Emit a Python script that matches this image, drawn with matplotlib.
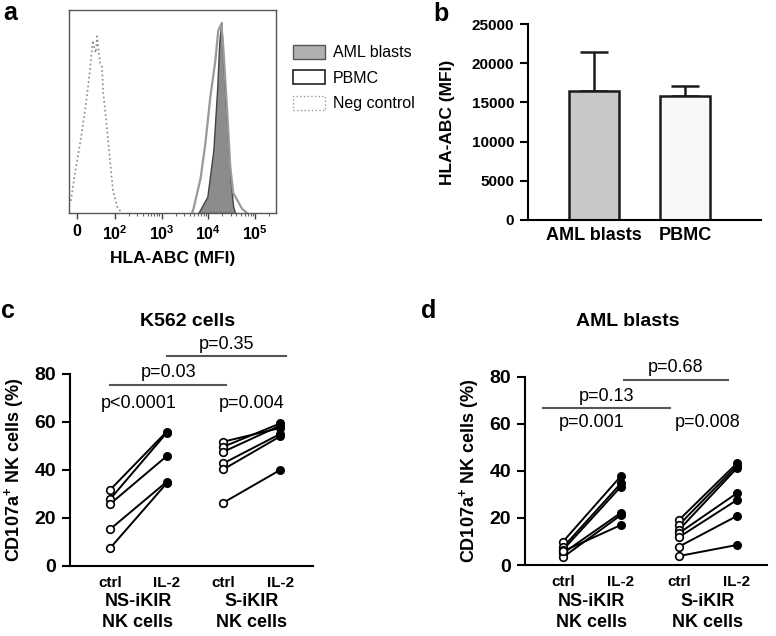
import numpy as np
import matplotlib.pyplot as plt
from matplotlib import ticker
from matplotlib.patches import Patch

plt.rcParams['font.family'] = ['Liberation Sans', 'DejaVu Sans']
plt.rcParams['mathtext.fontset'] = 'custom'
plt.rcParams['mathtext.rm'] = 'Liberation Sans'
plt.rcParams['mathtext.bf'] = 'Liberation Sans:bold'

# a: histogramme (MFI, hauteur relative)
neg_mfi = [-16, -5, 8, 21, 26, 34, 42, 47, 50, 53, 57, 61, 66, 69, 79, 87, 95, 113, 140]
neg_cnt = [0.06, 0.2, 0.34, 0.5, 0.57, 0.70, 0.85, 0.80, 0.79, 0.87, 0.80, 0.74, 0.72, 0.60, 0.42, 0.26, 0.11, 0.03, 0.0]
aml_mfi = [6100, 9500, 12800, 15500, 17100, 18900, 20800, 25300, 29400, 34000, 37500]
aml_cnt = [0.0, 0.08, 0.31, 0.62, 0.84, 0.94, 0.75, 0.42, 0.18, 0.03, 0.0]
pbmc_mfi = [4500, 4800, 6800, 8600, 11000, 14100, 16300, 18900, 20800, 25300, 29400, 34000, 52800, 67600]
pbmc_cnt = [0.0, 0.02, 0.17, 0.34, 0.57, 0.75, 0.90, 0.93, 0.82, 0.50, 0.23, 0.10, 0.02, 0.0]

# b: barres
groups_b = ['AML blasts', 'PBMC']
mfi_mean = [16490, 15860]
mfi_sd = [4900, 1230]

# c / d: paires ctrl -> IL-2
cats = ['ctrl', 'IL-2', 'ctrl', 'IL-2']
k562_ns_ctrl = [31.7, 27.8, 25.8, 15.3, 7.4]
k562_ns_il2 = [56.0, 55.5, 45.8, 35.1, 34.5]
k562_s_ctrl = [51.8, 49.7, 47.6, 42.8, 40.3, 26.4]
k562_s_il2 = [57.5, 59.4, 58.5, 55.0, 54.0, 40.0]
aml_ns_ctrl = [9.9, 7.5, 6.4, 5.0, 3.3, 5.8]
aml_ns_il2 = [37.8, 34.7, 33.3, 22.2, 21.2, 17.0]
aml_s_ctrl = [19.1, 17.0, 14.9, 13.5, 11.8, 7.8, 3.8]
aml_s_il2 = [43.2, 42.1, 41.1, 30.5, 27.6, 20.8, 8.5]

W, H = 776, 636
fig = plt.figure(figsize=(W / 100, H / 100), dpi=100)


def box(l, t, r, b):
    return [l / W, 1 - b / H, (r - l) / W, (b - t) / H]


def ftext(x, y, s, **kw):
    fig.text(x / W, 1 - y / H, s, ha='center', va='center', **kw)


# ---- a
ax = fig.add_axes(box(69, 10, 276, 213))
ax.set_xscale('symlog', linthresh=100, linscale=0.73)
ax.fill_between(pbmc_mfi, pbmc_cnt, color='white', lw=0)
ax.plot(pbmc_mfi, pbmc_cnt, color='#9a9a9a', lw=1.6)
ax.fill_between(aml_mfi, aml_cnt, facecolor='#8c8c8c', edgecolor='#444444', lw=1)
ax.plot(neg_mfi, neg_cnt, color='#8a8a8a', lw=1.2, ls=':')
ax.set_xlim(-21, 2.8e5)
ax.set_ylim(0, 1)
ax.set_xticks([0, 100, 1000, 10000, 100000])
ax.set_xticklabels(['0', r'$\mathbf{10^{2}}$', r'$\mathbf{10^{3}}$', r'$\mathbf{10^{4}}$', r'$\mathbf{10^{5}}$'],
                   fontsize=11.5, fontweight='bold')
ax.xaxis.set_minor_locator(ticker.SymmetricalLogLocator(linthresh=100, base=10, subs=range(2, 10)))
ax.tick_params(axis='x', which='major', length=4, width=1, color='#444444', pad=4)
ax.tick_params(axis='x', which='minor', length=2, width=0.8, color='#666666')
ax.set_yticks([])
for s in ax.spines.values():
    s.set_color('#555555')
    s.set_linewidth(1)
ax.set_xlabel('HLA-ABC (MFI)', fontsize=12.5, fontweight='bold', labelpad=6)
handles = [Patch(facecolor='#b0b0b0', edgecolor='#555555', lw=1),
           Patch(facecolor='white', edgecolor='#222222', lw=1.2),
           Patch(facecolor='white', edgecolor='#999999', lw=1, ls=':')]
ax.legend(handles, ['AML blasts', 'PBMC', 'Neg control'], loc='upper left',
          bbox_to_anchor=(1.012, 0.90), frameon=False, fontsize=11.5,
          handlelength=2.0, handleheight=1.0, labelspacing=0.62, handletextpad=0.5)

# ---- b
ax = fig.add_axes(box(528, 24, 761, 220))
xb = np.arange(len(groups_b))
ax.bar(xb, mfi_mean, width=0.54, color=['#c8c8c8', '#f8f8f8'], edgecolor='#1a1a1a', lw=1.8, zorder=2)
ax.errorbar(xb, mfi_mean, yerr=[[0, 0], mfi_sd], fmt='none', ecolor='#1a1a1a',
            elinewidth=1.8, capsize=10, capthick=1.8, zorder=1)
ax.set_xlim(-0.725, 1.835)
ax.set_ylim(0, 25000)
ax.set_yticks(range(0, 25001, 5000))
ax.set_xticks(xb)
ax.set_xticklabels(groups_b, fontsize=13, fontweight='bold')
for t in ax.get_yticklabels():
    t.set_fontweight('bold')
    t.set_fontsize(11)
ax.tick_params(axis='x', length=0, pad=5)
ax.tick_params(axis='y', length=6, width=1.5, pad=4)
for s in ['top', 'right']:
    ax.spines[s].set_visible(False)
for s in ['left', 'bottom']:
    ax.spines[s].set_linewidth(1.5)
ax.set_ylabel('HLA-ABC (MFI)', fontsize=12.5, fontweight='bold', labelpad=12)


# ---- c / d
def paired(ax, ns_c, ns_i, s_c, s_i):
    for x0, a, b in [(1, ns_c, ns_i), (3, s_c, s_i)]:
        for u, v in zip(a, b):
            ax.plot([x0, x0 + 1], [u, v], color='black', lw=1.4, zorder=2)
        ax.scatter([x0] * len(a), a, s=30, facecolor='white', edgecolor='black', lw=1.2, zorder=3)
        ax.scatter([x0 + 1] * len(b), b, s=30, color='black', zorder=3)
    ax.set_ylim(0, 80)
    ax.set_yticks(range(0, 81, 20))
    ax.set_xticks([1, 2, 3, 4])
    ax.set_xticklabels(cats, fontsize=11, fontweight='bold')
    for t in ax.get_yticklabels():
        t.set_fontweight('bold')
        t.set_fontsize(14)
    ax.tick_params(axis='x', length=0, pad=7)
    ax.tick_params(axis='y', length=6, width=1.5, pad=4)
    for s in ['top', 'right']:
        ax.spines[s].set_visible(False)
    for s in ['left', 'bottom']:
        ax.spines[s].set_linewidth(1.5)
    ax.set_ylabel(r'CD107a$^{\mathbf{+}}$ NK cells (%)', fontsize=13, fontweight='bold', labelpad=6)


def sig(ax, x1, x2, y, label, ty):
    ax.plot([x1, x2], [y, y], color='#555555', lw=1.5, clip_on=False)
    ax.text((x1 + x2) / 2, ty, label, ha='center', va='center', fontsize=13, clip_on=False)


ax = fig.add_axes(box(70, 374, 313, 566))
paired(ax, k562_ns_ctrl, k562_ns_il2, k562_s_ctrl, k562_s_il2)
ax.set_xlim(0.294, 4.58)
ax.text(1.5, 67.5, 'p<0.0001', ha='center', va='center', fontsize=13)
ax.text(3.5, 67.5, 'p=0.004', ha='center', va='center', fontsize=13)
sig(ax, 1, 3.05, 75.4, 'p=0.03', 80.6)
sig(ax, 2, 4.1, 87.5, 'p=0.35', 92.2)

ax = fig.add_axes(box(525, 376.7, 767, 565))
paired(ax, aml_ns_ctrl, aml_ns_il2, aml_s_ctrl, aml_s_il2)
ax.set_xlim(0.345, 4.52)
ax.text(1.5, 60.7, 'p=0.001', ha='center', va='center', fontsize=13)
ax.text(3.5, 60.7, 'p=0.008', ha='center', va='center', fontsize=13)
sig(ax, 0.65, 2.85, 66.7, 'p=0.13', 71.6)
sig(ax, 2.05, 3.85, 78.6, 'p=0.68', 83.9)

# textes de groupe et titres
ftext(138, 612, 'NS-iKIR\nNK cells', fontsize=13, fontweight='bold', linespacing=1.25)
ftext(252, 612, 'S-iKIR\nNK cells', fontsize=13, fontweight='bold', linespacing=1.25)
ftext(591, 612, 'NS-iKIR\nNK cells', fontsize=13, fontweight='bold', linespacing=1.25)
ftext(708, 612, 'S-iKIR\nNK cells', fontsize=13, fontweight='bold', linespacing=1.25)
ftext(188, 322, 'K562 cells', fontsize=14, fontweight='bold')
ftext(628, 322, 'AML blasts', fontsize=14, fontweight='bold')

# lettres des panneaux
ftext(10, 13, 'a', fontsize=18, fontweight='bold')
ftext(441, 14, 'b', fontsize=18, fontweight='bold')
ftext(8, 311, 'c', fontsize=18, fontweight='bold')
ftext(429, 311, 'd', fontsize=18, fontweight='bold')

fig.savefig('out.png', dpi=100)
